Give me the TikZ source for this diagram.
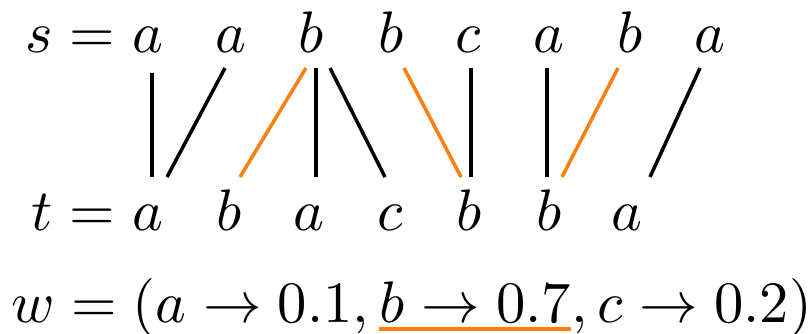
\documentclass[tikz,border=0pt]{standalone}
\usepackage{graphicx}
\usetikzlibrary{calc}
\definecolor{mplorange}{RGB}{255,127,14}
\newcommand{\mysc}[1]{\scalebox{2.93}{$#1$}}
\begin{document}
\begin{tikzpicture}[x=0.5pt,y=-0.5pt,
  letter/.style={inner sep=0pt, anchor=base},
  link/.style={line width=1.75pt, black},
  hl/.style={line width=1.75pt, mplorange}]
\useasboundingbox (0,0) rectangle (812,333);
% top row
\node[letter, anchor=base east] (slab) at (131.6,52) {\mysc{s={}}};
\node[letter] (s1) at (148,52) {\mysc{a}};
\node[letter] (s2) at (231,52) {\mysc{a}};
\node[letter] (s3) at (311,52) {\mysc{b}};
\node[letter] (s4) at (391,52) {\mysc{b}};
\node[letter] (s5) at (468,52) {\mysc{c}};
\node[letter] (s6) at (549,52) {\mysc{a}};
\node[letter] (s7) at (630,52) {\mysc{b}};
\node[letter] (s8) at (710,52) {\mysc{a}};
% bottom row
\node[letter, anchor=base east] (tlab) at (131.6,230) {\mysc{t={}}};
\node[letter] (t1) at (148,230) {\mysc{a}};
\node[letter] (t2) at (229,230) {\mysc{b}};
\node[letter] (t3) at (309,230) {\mysc{a}};
\node[letter] (t4) at (390,230) {\mysc{c}};
\node[letter] (t5) at (469,230) {\mysc{b}};
\node[letter] (t6) at (549,230) {\mysc{b}};
\node[letter] (t7) at (627,230) {\mysc{a}};
% links
\draw[link] ($(s1.base)+(4,21)$) -- ($(t1.base)+(4,-53)$);
\draw[link] ($(s2.base)+(-6,16)$) -- ($(t1.base)+(19,-53)$);
\draw[hl]   ($(s3.base)+(-5,16)$) -- ($(t2.base)+(11,-53)$);
\draw[link] ($(s3.base)+(5,16)$) -- ($(t3.base)+(7,-53)$);
\draw[link] ($(s3.base)+(19,16)$) -- ($(t4.base)+(-5,-53)$);
\draw[hl]   ($(s4.base)+(13,16)$) -- ($(t5.base)+(-8,-53)$);
\draw[link] ($(s5.base)+(3,16)$) -- ($(t5.base)+(2,-53)$);
\draw[link] ($(s6.base)+(-2,16)$) -- ($(t6.base)+(-2,-53)$);
\draw[hl]   ($(s7.base)+(-12,16)$) -- ($(t6.base)+(13,-53)$);
\draw[link] ($(s8.base)+(-10,16)$) -- ($(t7.base)+(23,-53)$);
% weights
\node[letter, anchor=base west] (w1) at (11,322) {\mysc{w=(a\to0.1,\,}};
\node[letter, anchor=base west] (w2) at (w1.base east) {\mysc{b\to0.7}};
\node[letter, anchor=base west] (w3) at (w2.base east) {\mysc{,c\to0.2)}};
\draw[hl] ($(w2.base west)+(0,7)$) -- ($(w2.base east)+(0,7)$);
\end{tikzpicture}
\end{document}
